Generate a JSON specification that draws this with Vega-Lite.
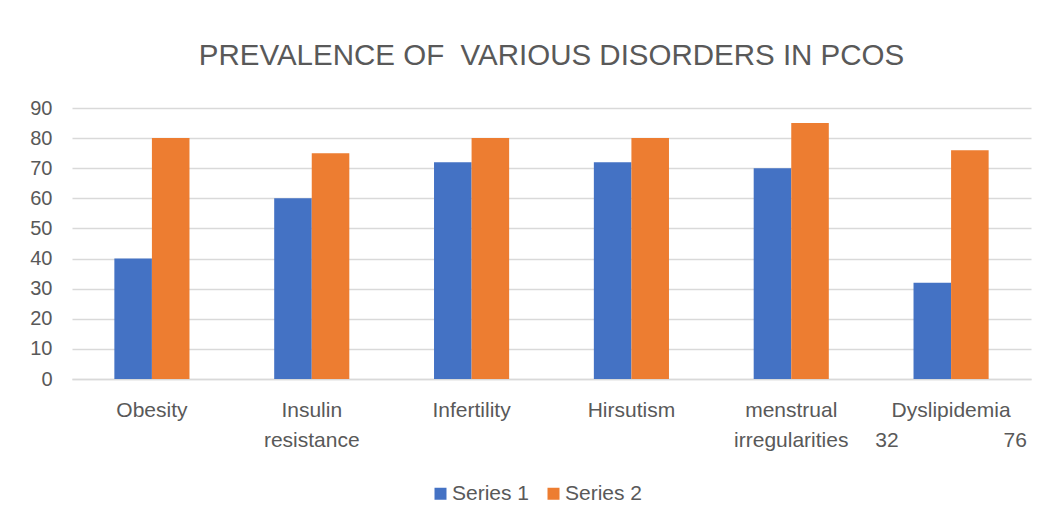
{
  "$schema": "https://vega.github.io/schema/vega-lite/v6.json",
  "width": 959,
  "height": 271,
  "autosize": {"type": "none"},
  "padding": {"left": 72, "top": 108, "right": 17, "bottom": 145},
  "background": "white",
  "title": {
    "text": "PREVALENCE OF \u00a0VARIOUS DISORDERS IN PCOS",
    "font": "Liberation Sans",
    "fontSize": 29.5,
    "fontWeight": "normal",
    "color": "#595959",
    "anchor": "middle",
    "baseline": "alphabetic",
    "offset": 4
  },
  "data": {
    "values": [
      {"disorder": "Obesity", "series": "Series 1", "value": 40},
      {"disorder": "Obesity", "series": "Series 2", "value": 80},
      {"disorder": "Insulin|resistance", "series": "Series 1", "value": 60},
      {"disorder": "Insulin|resistance", "series": "Series 2", "value": 75},
      {"disorder": "Infertility", "series": "Series 1", "value": 72},
      {"disorder": "Infertility", "series": "Series 2", "value": 80},
      {"disorder": "Hirsutism", "series": "Series 1", "value": 72},
      {"disorder": "Hirsutism", "series": "Series 2", "value": 80},
      {"disorder": "menstrual|irregularities", "series": "Series 1", "value": 70},
      {"disorder": "menstrual|irregularities", "series": "Series 2", "value": 85},
      {"disorder": "Dyslipidemia|32\u00a0\u00a0\u00a0\u00a0\u00a0\u00a0\u00a0\u00a0\u00a0\u00a0\u00a0\u00a0\u00a0\u00a0\u00a0\u00a0\u00a0\u00a076", "series": "Series 1", "value": 32},
      {"disorder": "Dyslipidemia|32\u00a0\u00a0\u00a0\u00a0\u00a0\u00a0\u00a0\u00a0\u00a0\u00a0\u00a0\u00a0\u00a0\u00a0\u00a0\u00a0\u00a0\u00a076", "series": "Series 2", "value": 76}
    ]
  },
  "mark": {"type": "bar"},
  "encoding": {
    "x": {
      "field": "disorder",
      "type": "nominal",
      "sort": null,
      "scale": {"paddingInner": 0.53, "paddingOuter": 0.265},
      "axis": {
        "title": null,
        "labelAngle": 0,
        "labelExpr": "split(datum.label, '|')",
        "labelFont": "Liberation Sans",
        "labelFontSize": 21,
        "labelColor": "#595959",
        "labelPadding": 20,
        "labelLineHeight": 30,
        "labelBaseline": "top",
        "ticks": false,
        "domain": true,
        "domainColor": "#D9D9D9",
        "domainWidth": 1.5,
        "labelLimit": 300
      }
    },
    "xOffset": {
      "field": "series",
      "type": "nominal",
      "scale": {"paddingInner": 0, "paddingOuter": 0}
    },
    "y": {
      "field": "value",
      "type": "quantitative",
      "scale": {"domain": [0, 90], "nice": false},
      "axis": {
        "title": null,
        "values": [0, 10, 20, 30, 40, 50, 60, 70, 80, 90],
        "labelFont": "Liberation Sans",
        "labelFontSize": 20,
        "labelColor": "#595959",
        "labelPadding": 20,
        "ticks": false,
        "domain": false,
        "grid": true,
        "gridColor": "#D9D9D9",
        "gridWidth": 1.5
      }
    },
    "color": {
      "field": "series",
      "type": "nominal",
      "scale": {"domain": ["Series 1", "Series 2"], "range": ["#4472C4", "#ED7D31"]},
      "legend": {
        "title": null,
        "orient": "none",
        "direction": "horizontal",
        "legendX": 358,
        "legendY": 375,
        "symbolType": "square",
        "symbolSize": 144,
        "symbolStrokeWidth": 0,
        "labelFont": "Liberation Sans",
        "labelFontSize": 21,
        "labelColor": "#595959",
        "labelOffset": 1,
        "columnPadding": 13
      }
    }
  },
  "config": {
    "view": {"stroke": null}
  }
}
